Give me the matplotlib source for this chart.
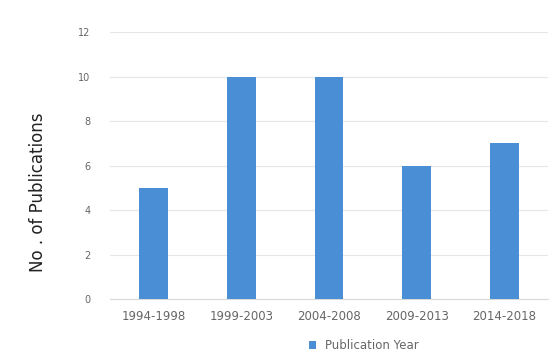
import matplotlib.pyplot as plt

periods = ['1994-1998', '1999-2003', '2004-2008', '2009-2013', '2014-2018']
counts = [5, 10, 10, 6, 7]
yticks = [0, 2, 4, 6, 8, 10, 12]

fig = plt.figure(figsize=(5.6, 3.6), dpi=100)
ax = fig.add_axes([0.196, 0.169, 0.783, 0.742])

ax.bar(range(len(periods)), counts, width=0.33, color='#4a8fd6',
       label='Publication Year', zorder=3)

ax.set_xlim(-0.5, len(periods) - 0.5)
ax.set_ylim(0, 12)
ax.set_yticks(yticks)
ax.set_xticks(range(len(periods)))
ax.set_xticklabels(periods)
ax.tick_params(length=0, colors='#666666')
ax.tick_params(axis='y', pad=14, labelsize=7)
ax.tick_params(axis='x', pad=8, labelsize=8.5)
ax.grid(axis='y', color='#e6e6e6', linewidth=0.8, zorder=0)

# no frame, just a faint baseline
for s in ['top', 'right', 'left']:
    ax.spines[s].set_visible(False)
ax.spines['bottom'].set_color('#d9d9d9')

ax.set_ylabel('No . of Publications', fontsize=12, color='#222222')
ax.yaxis.set_label_coords(-0.142, 0.40)

ax.legend(loc='upper center', bbox_to_anchor=(0.58, -0.11), frameon=False,
          fontsize=8.5, labelcolor='#666666', handlelength=0.6, handleheight=0.6,
          handletextpad=0.8)

fig.savefig('out.png', dpi=100)
